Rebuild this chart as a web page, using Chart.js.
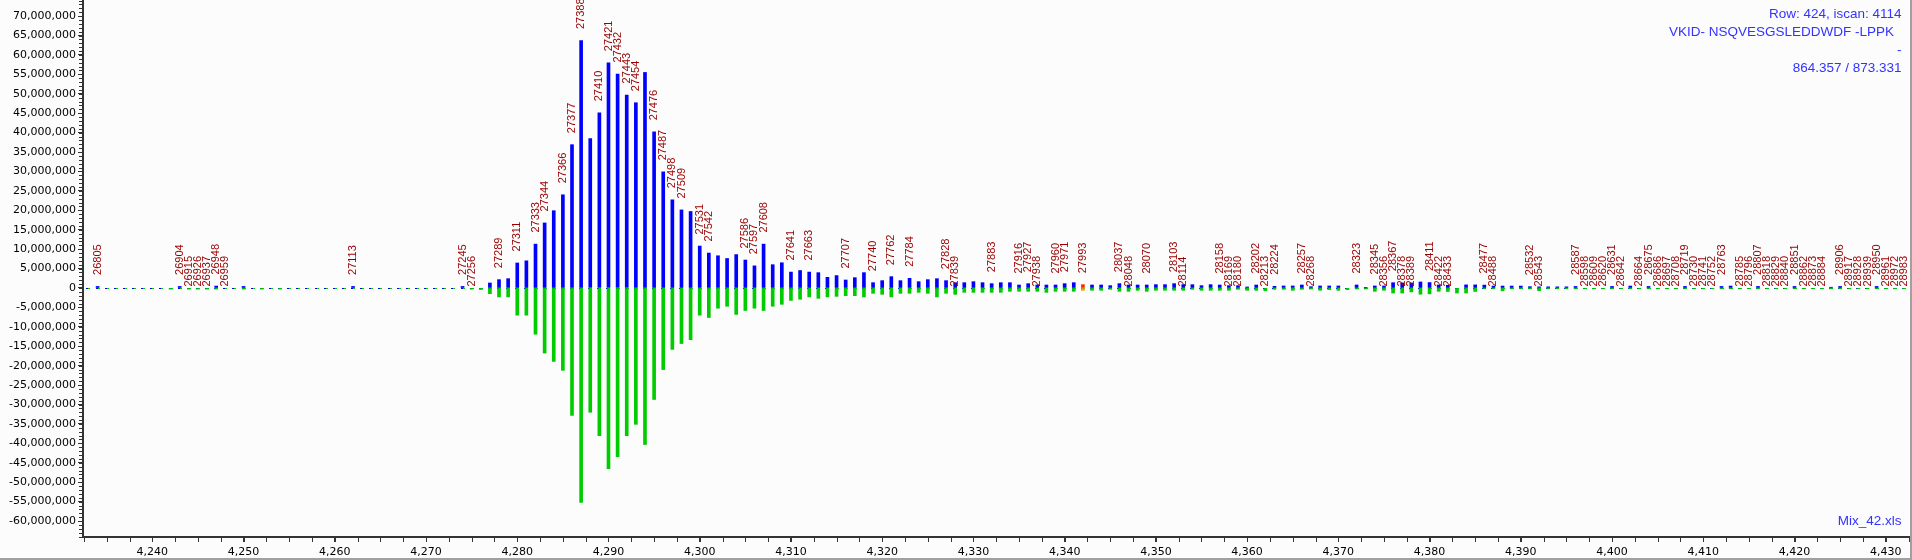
<!DOCTYPE html>
<html>
<head>
<meta charset="utf-8">
<script src="https://cdn.jsdelivr.net/npm/chart.js@4/dist/chart.umd.min.js"></script>
<style>
  html, body { margin: 0; padding: 0; background: #fcfcfc; }
  #wrap { position: relative; width: 1910px; height: 558px; background: #fcfcfc;
          border-right: 2px solid #a0a0a0; border-bottom: 2px solid #a0a0a0; }
  canvas { display: block; }
</style>
</head>
<body>
<div id="wrap"><canvas id="c" width="1910" height="558"></canvas></div>
<script>
// ---------------- DATA ----------------
// x positions (scan axis) of every bar pair
const mz = [
  4233,4234,4235,4236,4237,4238,4239,4240,4241,4242,
  4243,4244,4245,4246,4247,4248,4249,4250,4251,4252,
  4253,4254,4255,4256,4257,4258,4259,4260,4261,4262,
  4263,4264,4265,4266,4267,4268,4269,4270,4271,4272,
  4273,4274,4275,4276,4277,4278,4279,4280,4281,4282,
  4283,4284,4285,4286,4287,4288,4289,4290,4291,4292,
  4293,4294,4295,4296,4297,4298,4299,4300,4301,4302,
  4303,4304,4305,4306,4307,4308,4309,4310,4311,4312,
  4313,4314,4315,4316,4317,4318,4319,4320,4321,4322,
  4323,4324,4325,4326,4327,4328,4329,4330,4331,4332,
  4333,4334,4335,4336,4337,4338,4339,4340,4341,4342,
  4343,4344,4345,4346,4347,4348,4349,4350,4351,4352,
  4353,4354,4355,4356,4357,4358,4359,4360,4361,4362,
  4363,4364,4365,4366,4367,4368,4369,4370,4371,4372,
  4373,4374,4375,4376,4377,4378,4379,4380,4381,4382,
  4383,4384,4385,4386,4387,4388,4389,4390,4391,4392,
  4393,4394,4395,4396,4397,4398,4399,4400,4401,4402,
  4403,4404,4405,4406,4407,4408,4409,4410,4411,4412,
  4413,4414,4415,4416,4417,4418,4419,4420,4421,4422,
  4423,4424,4425,4426,4427,4428,4429,4430,4431,4432
];

// blue series (upper), in millions
const blueM = [
  null,0.4,null,null,null,null,null,null,null,null,
  0.4,null,null,null,0.5,null,null,0.4,null,null,
  null,null,null,null,null,null,null,null,null,0.4,
  null,null,null,null,null,null,null,null,null,null,
  null,0.4,null,null,1.29,2.15,2.4,6.44,7.0,11.3,
  16.75,19.9,24.0,36.9,63.7,38.5,45.1,58.0,55.1,49.7,
  47.7,55.5,40.2,29.9,22.7,20.1,19.7,10.8,9.0,8.3,
  7.6,8.6,7.2,5.7,11.3,6.0,6.5,4.1,4.5,4.1,
  3.95,2.75,3.2,2.06,2.66,3.95,1.37,1.89,2.92,1.89,
  2.49,1.63,2.15,2.4,1.89,1.37,1.37,1.63,1.37,1.12,
  1.37,1.37,0.77,1.12,0.77,0.77,0.77,1.12,1.37,0.86,
  0.77,0.77,0.6,1.12,0.77,0.77,0.77,0.86,0.86,1.12,
  0.86,0.86,0.6,0.86,0.77,0.6,0.6,0.26,0.77,null,
  0.43,0.52,0.52,0.77,0.34,0.52,0.52,0.52,null,0.77,
  0.17,0.52,0.52,1.37,1.3,1.3,1.55,1.4,0.77,0.7,
  null,0.8,0.8,0.75,0.5,0.5,0.5,0.5,0.35,0.3,
  0.3,0.3,0.3,0.4,null,null,null,0.4,null,0.5,
  null,0.4,null,null,null,0.4,null,null,null,0.4,
  0.5,null,null,0.4,null,null,null,0.4,null,null,
  null,0.2,0.4,null,null,null,0.4,null,null,null
];

// green series (lower, mirrored), in millions
const greenM = [
  null,null,null,null,null,null,null,null,null,-0.3,
  null,-0.3,-0.3,-0.3,-0.3,null,null,-0.3,null,-0.3,
  null,-0.3,null,null,null,null,null,null,null,null,
  null,null,null,null,null,null,null,null,null,null,
  null,null,-0.3,-0.4,-1.46,-2.3,-2.3,-7.0,-7.0,-11.9,
  -16.75,-18.9,-21.2,-32.8,-55.2,-32.0,-38.0,-46.5,-43.4,-38.0,
  -35.1,-40.3,-28.7,-21.0,-15.8,-14.3,-13.3,-7.0,-7.6,-5.2,
  -4.7,-6.8,-5.8,-5.2,-5.8,-4.7,-4.2,-3.2,-2.9,-2.3,
  -2.66,-2.3,-2.15,-1.98,-1.98,-2.3,-1.37,-1.63,-2.3,-1.37,
  -1.37,-1.12,-1.37,-2.3,-1.37,-1.63,-1.12,-1.12,-1.12,-1.12,
  -1.12,-0.86,-0.86,-0.86,-0.86,-1.12,-0.86,-0.86,-0.86,-0.6,
  -0.6,-0.6,-0.34,-0.86,-0.86,-0.6,-0.86,-0.6,-0.6,-0.6,
  -0.6,-0.34,-0.6,-0.6,-0.6,-0.6,-0.34,-0.6,-0.6,-0.7,
  -0.34,-0.34,-0.6,-0.34,-0.26,-0.6,-0.43,-0.6,-0.43,-0.26,
  -0.26,-0.86,-0.6,-1.3,-1.3,-1.0,-1.6,-1.5,-0.86,-0.9,
  -1.3,-1.3,-0.9,-0.2,-0.2,-0.7,-0.2,-0.2,-0.2,-0.7,
  -0.2,-0.2,-0.2,-0.2,-0.2,-0.2,-0.2,-0.2,-0.2,-0.2,
  -0.2,-0.2,-0.2,-0.2,-0.2,-0.2,-0.2,-0.2,-0.2,-0.2,
  -0.2,-0.2,-0.2,-0.2,-0.2,-0.2,-0.2,-0.2,-0.2,-0.2,
  -0.2,-0.2,-0.2,-0.2,-0.2,-0.2,-0.2,-0.2,-0.2,-0.2
];

// highlighted (selected) bar pair
const highlightX = [4342];

// peak annotations
const peakX = [
  4234,4243,4244,4245,4246,4247,4248,4262,4274,4275,
  4278,4280,4282,4283,4285,4286,4287,4289,4290,4291,4292,4293,
  4295,4296,4297,4298,4300,4301,4305,4306,4307,4310,4312,4316,
  4319,4321,4323,4327,4328,4332,4335,4336,4337,4339,4340,4342,
  4346,4347,4349,4352,4353,4357,4358,4359,4361,4362,4363,4366,4367,
  4372,4374,4375,4376,4377,4378,4380,4381,4382,4386,4387,4391,4392,
  4396,4397,4398,4399,4400,4401,4403,4404,4405,4406,4407,4408,4409,
  4410,4411,4412,4414,4415,4416,4417,4418,4419,4420,4421,4422,4423,
  4425,4426,4427,4428,4429,4430,4431,4432
];
const peakText = [
  '26805','26904','26915','26926','26937','26948','26959','27113','27245','27256',
  '27289','27311','27333','27344','27366','27377','27388','27410','27421','27432','27443','27454',
  '27476','27487','27498','27509','27531','27542','27586','27597','27608','27641','27663','27707',
  '27740','27762','27784','27828','27839','27883','27916','27927','27938','27960','27971','27993',
  '28037','28048','28070','28103','28114','28158','28169','28180','28202','28213','28224','28257','28268',
  '28323','28345','28356','28367','28378','28389','28411','28422','28433','28477','28488','28532','28543',
  '28587','28598','28609','28620','28631','28642','28664','28675','28686','28697','28708','28719','28730',
  '28741','28752','28763','28785','28796','28807','28818','28829','28840','28851','28862','28873','28884',
  '28906','28917','28928','28939','28950','28961','28972','28983'
];

// axis ticks
const yTickValues = [-60000000,-55000000,-50000000,-45000000,-40000000,-35000000,-30000000,
  -25000000,-20000000,-15000000,-10000000,-5000000,0,5000000,10000000,15000000,20000000,
  25000000,30000000,35000000,40000000,45000000,50000000,55000000,60000000,65000000,70000000];
const xTickValues = [4240,4250,4260,4270,4280,4290,4300,4310,4320,4330,4340,4350,4360,
  4370,4380,4390,4400,4410,4420,4430];
const yMinorStep = 1000000;
const xMinorStep = 2.5;

// annotation texts
const infoLines = ['Row: 424, iscan: 4114', 'VKID- NSQVESGSLEDDWDF -LPPK', '-', '864.357 / 873.331'];
const fileLabel = 'Mix_42.xls';

// ---------------- RENDER ----------------
const M = 1e6;
const BLUE = '#0000ff', GREEN = '#00cc00', RED = '#ff2a00', ORANGE = '#ff9a00';
const X_MIN = 4232.40, X_MAX = 4432.66;
const Y_MIN = -64.11e6, Y_MAX = 74.15e6;

const blueData = mz.map((x, i) => ({x, y: blueM[i] == null ? null : blueM[i] * M})).filter(p => p.y !== null);
const greenData = mz.map((x, i) => ({x, y: greenM[i] == null ? null : greenM[i] * M})).filter(p => p.y !== null);

const fmt = v => Number(v).toLocaleString('en-US');

const decor = {
  id: 'decor',
  beforeDatasetsDraw(chart) {
    const {ctx, chartArea: ca, scales: {x, y}} = chart;
    const y0 = Math.round(y.getPixelForValue(0));
    ctx.save();
    ctx.beginPath(); ctx.rect(ca.left, ca.top, ca.right - ca.left, ca.bottom - ca.top); ctx.clip();
    for (let u = Math.ceil(x.min); u <= Math.floor(x.max); u++) {
      const c = x.getPixelForValue(u);
      ctx.fillStyle = BLUE;  ctx.fillRect(Math.round(c) - 2, y0, 2, 1);
      ctx.fillStyle = GREEN; ctx.fillRect(Math.round(c), y0, 2, 1);
    }
    ctx.restore();
  },
  afterDatasetsDraw(chart) {
    const {ctx, scales: {x, y}} = chart;
    const y0 = y.getPixelForValue(0);
    ctx.save();
    ctx.font = '11px "Liberation Sans", Arial, sans-serif';
    ctx.textAlign = 'left';
    ctx.textBaseline = 'middle';
    peakX.forEach((u, i) => {
      const idx = mz.indexOf(u);
      const b = blueM[idx];
      const bPrev = idx > 0 && blueM[idx - 1] != null ? blueM[idx - 1] : 0;
      const prevLabeled = peakX.includes(u - 1);
      const lower = b == null || (prevLabeled && b <= bPrev && b < 1.5);
      const cx = x.getPixelForValue(u);
      let anchor;
      if (lower) {
        anchor = y0 - 1.5;
      } else {
        const top = y.getPixelForValue(b * M);
        anchor = top - 11.5;
        ctx.fillStyle = '#ffffff';
        ctx.fillRect(Math.floor(cx), anchor, 1, Math.max(0, top - anchor - 1));
      }
      ctx.save();
      ctx.translate(cx, anchor);
      ctx.rotate(-Math.PI / 2);
      ctx.fillStyle = '#990000';
      ctx.fillText(peakText[i], 0, 0);
      ctx.restore();
    });
    ctx.restore();
  },
  afterDraw(chart) {
    const {ctx, chartArea: ca, scales: {x, y}} = chart;
    ctx.save();
    ctx.fillStyle = '#333333';
    // minor y ticks
    for (let v = Math.ceil(y.min / yMinorStep); v <= Math.floor(y.max / yMinorStep); v++) {
      const py = Math.round(y.getPixelForValue(v * yMinorStep));
      ctx.fillRect(ca.left - 4, py, 3, 1);
    }
    // minor x ticks
    for (let v = Math.ceil(x.min / xMinorStep); v <= Math.floor(x.max / xMinorStep); v++) {
      const px = Math.round(x.getPixelForValue(v * xMinorStep));
      ctx.fillRect(px, ca.bottom + 1, 1, 4);
    }
    // annotations
    ctx.font = '13.5px "Liberation Sans", Arial, sans-serif';
    ctx.fillStyle = '#3333ff';
    ctx.textAlign = 'right';
    ctx.textBaseline = 'middle';
    infoLines.forEach((t, i) => {
      const inset = i === 1 ? 16 : 8.5;
      ctx.fillText(t, ca.right - inset, ca.top + 14 + i * 18.1);
    });
    ctx.fillText(fileLabel, ca.right - 8.5, ca.bottom - 15.3);
    ctx.restore();
  }
};

new Chart(document.getElementById('c'), {
  type: 'bar',
  data: {
    datasets: [
      {
        label: 'blue', data: blueData, barThickness: 3, grouped: false,
        backgroundColor: c => (c.raw && highlightX.includes(c.raw.x)) ? RED : BLUE
      },
      {
        label: 'green', data: greenData, barThickness: 3, grouped: false,
        backgroundColor: c => (c.raw && highlightX.includes(c.raw.x)) ? ORANGE : GREEN
      }
    ]
  },
  options: {
    responsive: false,
    animation: false,
    devicePixelRatio: 1,
    events: [],
    layout: { padding: 0 },
    plugins: { legend: { display: false }, tooltip: { enabled: false }, title: { display: false } },
    scales: {
      x: {
        type: 'linear', min: X_MIN, max: X_MAX, bounds: 'data', offset: false,
        afterBuildTicks: s => { s.ticks = xTickValues.map(v => ({value: v})); },
        afterFit: s => { s.height = 21; s.paddingLeft = 0; s.paddingRight = 0; },
        ticks: { autoSkip: false, maxRotation: 0, padding: 4, color: '#000',
                 font: { family: '"DejaVu Sans", Verdana, sans-serif', size: 11 }, callback: fmt },
        grid: { offset: false, drawOnChartArea: false, drawTicks: true, tickLength: 5, tickColor: '#333', color: '#333' },
        border: { display: true, color: '#333', width: 2 }
      },
      y: {
        type: 'linear', min: Y_MIN, max: Y_MAX, bounds: 'data',
        afterBuildTicks: s => { s.ticks = yTickValues.map(v => ({value: v})); },
        afterFit: s => { s.width = 83; s.paddingTop = 0; s.paddingBottom = 0; },
        ticks: { autoSkip: false, padding: 2, color: '#000',
                 font: { family: '"DejaVu Sans", Verdana, sans-serif', size: 11 }, callback: fmt },
        grid: { drawOnChartArea: false, drawTicks: true, tickLength: 5, tickColor: '#333', color: '#333' },
        border: { display: true, color: '#333', width: 2 }
      }
    }
  },
  plugins: [decor]
});
</script>
</body>
</html>
